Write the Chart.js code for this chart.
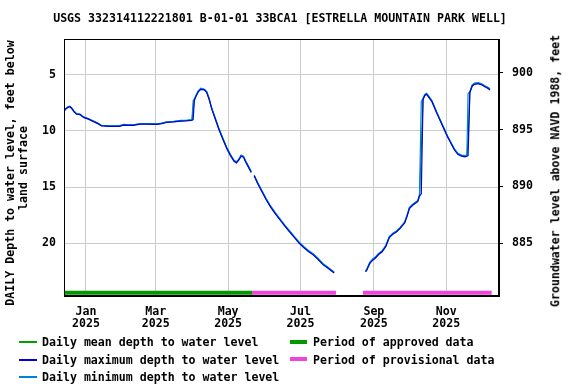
<!DOCTYPE html>
<html>
<head>
<meta charset="utf-8">
<script src="https://cdn.jsdelivr.net/npm/chart.js@4.4.1/dist/chart.umd.min.js"></script>
<style>
  body { margin: 0; background: #fff; }
  #wrap { position: relative; width: 576px; height: 384px; font-family: "DejaVu Sans Mono", monospace; font-weight: bold; font-size: 11.6px; color: #000; }
  #myChart { position: absolute; left: 0; top: 0; }
  .txt { position: absolute; white-space: nowrap; line-height: 1; }
  .rot { transform: translate(-50%, -50%) rotate(-90deg); }
  .swatch { position: absolute; }
</style>
</head>
<body>
<div id="wrap">
  <canvas id="myChart" width="576" height="384"></canvas>
  <div class="txt" style="left:280px; top:19px; transform: translate(-50%, -50%);">USGS 332314112221801 B-01-01 33BCA1 [ESTRELLA MOUNTAIN PARK WELL]</div>
  <div class="txt rot" style="left:11px; top:173px;">DAILY Depth to water level, feet below</div>
  <div class="txt rot" style="left:24px; top:168px;">land surface</div>
  <div class="txt rot" style="left:556px; top:171px;">Groundwater level above NAVD 1988, feet</div>

  <div class="swatch" style="left:19px; top:341px; width:18px; height:2px; background:#00a000;"></div>
  <div class="txt" style="left:42px; top:337px;">Daily mean depth to water level</div>
  <div class="swatch" style="left:19px; top:359px; width:18px; height:2px; background:#0000e0;"></div>
  <div class="txt" style="left:42px; top:354.5px;">Daily maximum depth to water level</div>
  <div class="swatch" style="left:19px; top:376px; width:18px; height:2px; background:#0080d8;"></div>
  <div class="txt" style="left:42px; top:372px;">Daily minimum depth to water level</div>
  <div class="swatch" style="left:290px; top:340px; width:17px; height:4px; background:#009900;"></div>
  <div class="txt" style="left:313px; top:337px;">Period of approved data</div>
  <div class="swatch" style="left:290px; top:357px; width:17px; height:4px; background:#ee44dd;"></div>
  <div class="txt" style="left:313px; top:354.5px;">Period of provisional data</div>
</div>
<script>
// days counted from 2025-01-01
const days = [-18.5, -17, -15, -13.5, -12, -10, -8, -5, -2, 2, 6, 10, 13, 20, 28, 32, 36, 40, 46, 52,
  60, 64, 68, 74, 80, 85, 89.5, 90.5, 91.5, 93, 95, 97, 100, 102, 104, 106, 109, 112, 115, 119,
  122, 125, 127, 129, 131, 133, 135, 137, 139.5, 140.5, 142, 145, 148, 152, 156, 160, 164, 168, 172, 176,
  180, 184, 188, 192, 196, 200, 204, 207, 209.5, 220, 236, 237, 239.5, 242, 244, 247, 250, 253, 256, 259,
  262, 265, 269, 271, 273, 276, 280, 281.5, 283, 284.5, 286, 287.5, 290, 292, 294, 296, 299, 302, 305, 308,
  311, 314, 317, 320, 321.5, 322.5, 324, 326, 328, 331, 334, 337, 339, 341];

const maxDepth = [8.25, 8.05, 7.9, 7.85, 8.0, 8.3, 8.5, 8.55, 8.8, 8.95, 9.15, 9.35, 9.55, 9.6, 9.6, 9.48, 9.5, 9.5, 9.4, 9.4,
  9.42, 9.35, 9.25, 9.2, 9.12, 9.1, 9.05, 9.0, 7.3, 6.9, 6.5, 6.3, 6.35, 6.6, 7.2, 8.0, 8.9, 9.8, 10.6, 11.6,
  12.2, 12.7, 12.85, 12.6, 12.25, 12.35, 12.8, 13.2, 13.7, null, 14.0, 14.7, 15.3, 16.1, 16.8, 17.4, 17.95, 18.5, 19.0, 19.5,
  20.0, 20.4, 20.75, 21.05, 21.45, 21.9, 22.2, 22.45, 22.65, null, 22.55, 22.4, 21.8, 21.5, 21.35, 21.0, 20.75, 20.3, 19.5, 19.2,
  19.0, 18.7, 18.2, 17.6, 16.9, 16.6, 16.3, 15.8, 15.6, 7.2, 6.85, 6.75, 7.1, 7.4, 7.9, 8.4, 9.1, 9.8, 10.5, 11.1,
  11.7, 12.1, 12.25, 12.3, 12.25, 12.2, 6.6, 6.0, 5.85, 5.8, 5.9, 6.1, 6.2, 6.35];

const minDepth = [8.2, 8.0, 7.85, 7.8, 7.95, 8.25, 8.45, 8.5, 8.75, 8.9, 9.1, 9.3, 9.5, 9.55, 9.55, 9.42, 9.45, 9.45, 9.35, 9.35,
  9.37, 9.3, 9.2, 9.15, 9.07, 9.05, 9.0, 7.3, 7.15, 6.8, 6.4, 6.2, 6.3, 6.5, 7.1, 7.9, 8.8, 9.7, 10.5, 11.5,
  12.1, 12.6, 12.75, 12.5, 12.15, 12.25, 12.7, 13.1, 13.6, null, 13.95, 14.6, 15.2, 16.0, 16.7, 17.3, 17.85, 18.4, 18.9, 19.4,
  19.9, 20.3, 20.65, 20.95, 21.35, 21.8, 22.1, 22.35, 22.55, null, 22.45, 22.3, 21.7, 21.4, 21.25, 20.9, 20.65, 20.2, 19.4, 19.1,
  18.9, 18.6, 18.1, 17.5, 16.8, 16.5, 16.2, 15.7, 7.4, 7.1, 6.75, 6.65, 7.0, 7.3, 7.8, 8.3, 9.0, 9.7, 10.4, 11.0,
  11.6, 12.0, 12.15, 12.2, 12.1, 6.7, 6.5, 5.9, 5.75, 5.7, 5.8, 6.0, 6.1, 6.25];

const meanDepth = [8.22, 8.02, 7.87, 7.83, 7.97, 8.27, 8.47, 8.52, 8.77, 8.92, 9.12, 9.32, 9.52, 9.57, 9.57, 9.45, 9.47, 9.47, 9.37, 9.37,
  9.4, 9.32, 9.22, 9.17, 9.1, 9.07, 9.02, 8.1, 7.22, 6.85, 6.45, 6.25, 6.32, 6.55, 7.15, 7.95, 8.85, 9.75, 10.55, 11.55,
  12.15, 12.65, 12.8, 12.55, 12.2, 12.3, 12.75, 13.15, 13.65, null, 13.97, 14.65, 15.25, 16.05, 16.75, 17.35, 17.9, 18.45, 18.95, 19.45,
  19.95, 20.35, 20.7, 21.0, 21.4, 21.85, 22.15, 22.4, 22.6, null, 22.5, 22.35, 21.75, 21.45, 21.3, 20.95, 20.7, 20.25, 19.45, 19.15,
  18.95, 18.65, 18.15, 17.55, 16.85, 16.55, 16.25, 15.75, 11.8, 7.15, 6.8, 6.7, 7.05, 7.35, 7.85, 8.35, 9.05, 9.75, 10.45, 11.05,
  11.65, 12.05, 12.2, 12.25, 12.2, 11.0, 6.55, 5.95, 5.8, 5.75, 5.85, 6.05, 6.15, 6.3];

// approval periods, start/end day
const approvedPeriods = [[-18.5, 140.2]];
const provisionalPeriods = [[140.2, 211], [233.8, 342.4]];

const tickDays = [0, 59, 120, 181, 243, 304];
const tickMonths = ['Jan', 'Mar', 'May', 'Jul', 'Sep', 'Nov'];
const tickYears = ['2025', '2025', '2025', '2025', '2025', '2025'];
const depthTicks = [5, 10, 15, 20];
const elevTicks = [885, 890, 895, 900];

const tickFont = { family: 'DejaVu Sans Mono', weight: 'bold', size: 11.6, lineHeight: 1.05 };
const barLevel = 24.4;

function series(vals) {
  return days.map((d, i) => ({ x: d, y: vals[i] }));
}

const datasets = [
  { label: 'max', data: series(maxDepth), borderColor: '#0000e0' },
  { label: 'min', data: series(minDepth), borderColor: '#0080d8' },
  { label: 'mean', data: series(meanDepth), borderColor: '#00a000' }
];
approvedPeriods.forEach(p => {
  datasets.push({ label: 'approved', data: [{ x: p[0], y: barLevel }, { x: p[1], y: barLevel }], borderColor: '#009900', borderWidth: 4 });
});
provisionalPeriods.forEach(p => {
  datasets.push({ label: 'provisional', data: [{ x: p[0], y: barLevel }, { x: p[1], y: barLevel }], borderColor: '#ee44dd', borderWidth: 4 });
});
datasets.forEach(ds => {
  ds.pointRadius = 0;
  ds.tension = 0;
  ds.fill = false;
  ds.spanGaps = false;
  if (!ds.borderWidth) ds.borderWidth = 1.2;
});

// plot frame
const framePlugin = {
  id: 'frame',
  afterDraw(chart) {
    const { ctx, chartArea: { left, right, top, bottom } } = chart;
    ctx.save();
    ctx.strokeStyle = '#000';
    ctx.lineWidth = 1;
    ctx.strokeRect(left + 0.5, top + 0.5, right - left - 1, bottom - top - 1);
    ctx.restore();
  }
};

const ctx = document.getElementById('myChart').getContext('2d');
const myChart = new Chart(ctx, {
  type: 'line',
  data: { datasets: datasets },
  options: {
    responsive: false,
    animation: false,
    devicePixelRatio: 1,
    layout: { padding: { top: 39, bottom: 48, left: 0, right: 0 } },
    plugins: {
      legend: { display: false },
      tooltip: { enabled: false }
    },
    scales: {
      x: {
        type: 'linear',
        min: -18.5,
        max: 348.6,
        afterBuildTicks: (scale) => { scale.ticks = tickDays.map(v => ({ value: v })); },
        afterFit: (scale) => { scale.height = 40; },
        ticks: {
          autoSkip: false,
          maxRotation: 0,
          padding: 9.5,
          color: '#000',
          font: tickFont,
          callback: (value, index) => [tickMonths[index], tickYears[index]]
        },
        grid: { color: '#cccccc', drawTicks: false },
        border: { color: '#000' }
      },
      y: {
        type: 'linear',
        position: 'left',
        reverse: true,
        min: 1.82,
        max: 24.69,
        afterBuildTicks: (scale) => { scale.ticks = depthTicks.map(v => ({ value: v })); },
        afterFit: (scale) => { scale.width = 64; },
        ticks: { padding: 8, color: '#000', font: tickFont },
        grid: { color: '#cccccc', drawTicks: false },
        border: { color: '#000' }
      },
      y2: {
        type: 'linear',
        position: 'right',
        min: 880.36,
        max: 902.96,
        afterBuildTicks: (scale) => { scale.ticks = elevTicks.map(v => ({ value: v })); },
        afterFit: (scale) => { scale.width = 77; },
        ticks: { padding: 9, color: '#000', font: tickFont },
        grid: { drawOnChartArea: false, drawTicks: true, tickLength: 4, color: '#000' },
        border: { color: '#000' }
      }
    }
  },
  plugins: [framePlugin]
});
</script>
</body>
</html>
